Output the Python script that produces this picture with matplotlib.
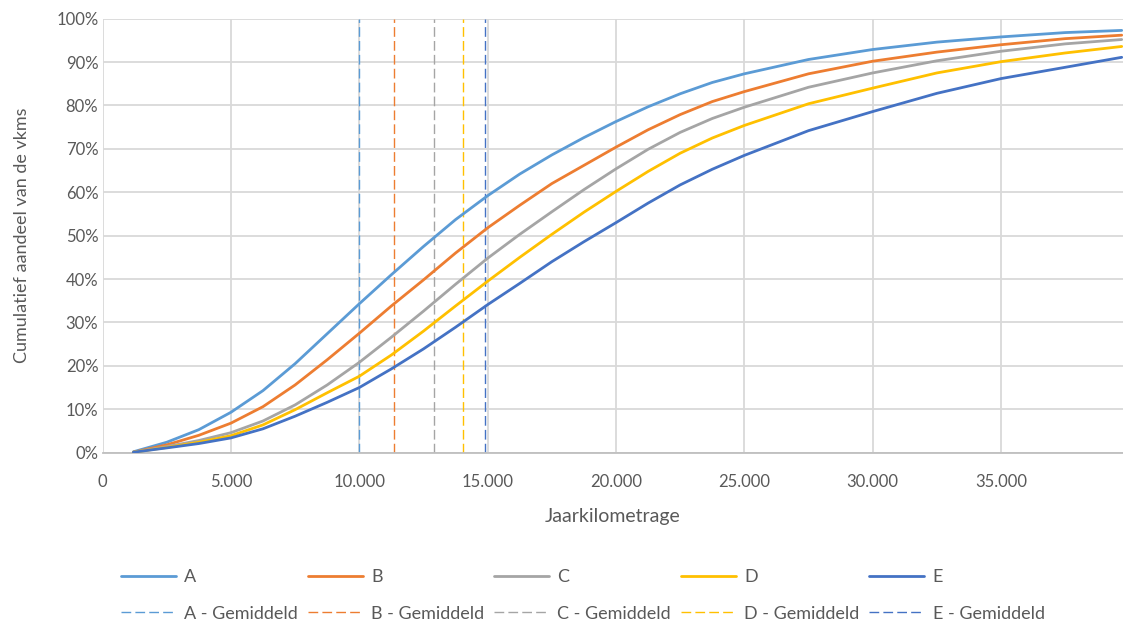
import numpy as np
import matplotlib.pyplot as plt
from matplotlib.ticker import FuncFormatter, MultipleLocator

# ----- Data ----- #
km = [1200, 2500, 3750, 5000, 6250, 7500, 8750, 10000, 11250, 12500, 13750,
      15000, 16250, 17500, 18750, 20000, 21250, 22500, 23750, 25000,
      27500, 30000, 32500, 35000, 37500, 39700]

cum_a = [0.2, 2.4, 5.3, 9.3, 14.3, 20.5, 27.4, 34.3, 41.0, 47.5, 53.7,
         59.2, 64.2, 68.6, 72.6, 76.3, 79.7, 82.7, 85.3, 87.3,
         90.6, 92.9, 94.6, 95.8, 96.8, 97.3]
cum_b = [0.1, 1.8, 4.0, 6.8, 10.6, 15.6, 21.4, 27.5, 33.8, 39.8, 46.0,
         51.8, 57.0, 62.0, 66.2, 70.4, 74.4, 77.9, 80.9, 83.2,
         87.3, 90.2, 92.3, 94.0, 95.4, 96.2]
cum_c = [0.1, 1.4, 2.8, 4.6, 7.3, 11.0, 15.6, 20.8, 26.6, 32.6, 38.8,
         44.8, 50.3, 55.5, 60.6, 65.4, 69.9, 73.8, 77.0, 79.6,
         84.2, 87.5, 90.3, 92.5, 94.2, 95.2]
cum_d = [0.1, 1.2, 2.4, 3.9, 6.4, 9.9, 13.8, 17.6, 22.5, 28.0, 33.8,
         39.5, 45.0, 50.3, 55.4, 60.2, 64.8, 69.0, 72.5, 75.4,
         80.4, 84.0, 87.5, 90.1, 92.1, 93.6]
cum_e = [0.1, 1.1, 2.1, 3.4, 5.5, 8.4, 11.6, 15.0, 19.3, 23.9, 28.9,
         34.1, 39.0, 44.0, 48.6, 53.0, 57.5, 61.7, 65.3, 68.5,
         74.2, 78.6, 82.8, 86.2, 88.8, 91.1]

gemiddeld = [10000, 11340, 12895, 14025, 14890]  # mean annual km per group

names = ['A', 'B', 'C', 'D', 'E']
colors = ['#5B9BD5', '#ED7D31', '#A5A5A5', '#FFC000', '#4472C4']
series = [cum_a, cum_b, cum_c, cum_d, cum_e]

# ----- Plot ----- #
plt.rcParams['font.family'] = ['Lato', 'DejaVu Sans']
text_grey = '#595959'

fig = plt.figure(figsize=(11.23, 6.23), dpi=100)
ax = fig.add_axes([0.0913, 0.2734, 0.9087, 0.6966])

handles = []
for name, col, vals, mean in zip(names, colors, series, gemiddeld):
    ln, = ax.plot(km, np.array(vals) / 100, color=col, lw=2.0,
                  solid_capstyle='round', solid_joinstyle='round',
                  label=name, zorder=3)
    dl, = ax.plot([mean, mean], [0, 1], color=col, lw=1.0,
                  dashes=(7, 3), label=name + ' - Gemiddeld', zorder=2)
    handles += [ln, dl]

ax.set_xlim(0, 39750)
ax.set_ylim(0, 1)
ax.xaxis.set_major_locator(MultipleLocator(5000))
ax.yaxis.set_major_locator(MultipleLocator(0.1))
ax.xaxis.set_major_formatter(FuncFormatter(lambda v, p: f'{int(v):,}'.replace(',', '.')))
ax.yaxis.set_major_formatter(FuncFormatter(lambda v, p: f'{v * 100:.0f}%'))

ax.grid(True, color='#D9D9D9', lw=1.3, zorder=0)
ax.set_axisbelow(True)
for s in ['top', 'right', 'left']:
    ax.spines[s].set_visible(False)
ax.spines['bottom'].set_color('#BFBFBF')
ax.spines['bottom'].set_linewidth(1.3)
ax.tick_params(length=0, labelsize=12, colors=text_grey)
ax.tick_params(axis='x', pad=15)
ax.tick_params(axis='y', pad=3)

ax.set_xlabel('Jaarkilometrage', fontsize=14, color=text_grey, labelpad=13)
ax.set_ylabel('Cumulatief aandeel van de vkms', fontsize=13, color=text_grey, labelpad=19)

leg = fig.legend(handles=handles, ncol=5, loc='lower center',
                 bbox_to_anchor=(0.519, -0.024), frameon=False, fontsize=13,
                 handlelength=3.05, columnspacing=0.55, handletextpad=0.45,
                 labelspacing=1.15, labelcolor=text_grey)

plt.savefig('out.png', dpi=100)
